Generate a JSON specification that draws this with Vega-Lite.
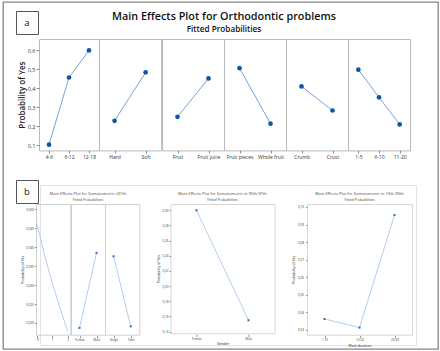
{
  "$schema": "https://vega.github.io/schema/vega-lite/v6.json",
  "background": "white",
  "padding": {"left": 2, "top": 1, "right": 0, "bottom": 0},
  "datasets": {
    "none": [],
    "boxA": [{"lbl": "a"}],
    "boxB": [{"lbl": "b"}],
    "mainA": [
      {"factor": "Age Group", "level": "4-6", "p": 0.104, "ord": 1},
      {"factor": "Age Group", "level": "6-12", "p": 0.456, "ord": 2},
      {"factor": "Age Group", "level": "12-18", "p": 0.598, "ord": 3},
      {"factor": "Food type", "level": "Hard", "p": 0.229, "ord": 1},
      {"factor": "Food type", "level": "Soft", "p": 0.483, "ord": 2},
      {"factor": "Feed composition-1", "level": "Fruit", "p": 0.250, "ord": 1},
      {"factor": "Feed composition-1", "level": "Fruit juice", "p": 0.451, "ord": 2},
      {"factor": "Feed composition_2", "level": "Fruit pieces", "p": 0.505, "ord": 1},
      {"factor": "Feed composition_2", "level": "Whole fruit", "p": 0.214, "ord": 2},
      {"factor": "Bread", "level": "Crumb", "p": 0.409, "ord": 1},
      {"factor": "Bread", "level": "Crust", "p": 0.283, "ord": 2},
      {"factor": "Times to chew", "level": "1-5", "p": 0.497, "ord": 1},
      {"factor": "Times to chew", "level": "6-10", "p": 0.352, "ord": 2},
      {"factor": "Times to chew", "level": "11-20", "p": 0.210, "ord": 3}
    ],
    "b1": [
      {"factor": "Gestational Age", "g": 0, "p": 0.0464},
      {"factor": "Gestational Age", "g": 0.5, "p": 0.0380},
      {"factor": "Gestational Age", "g": 1, "p": 0.0306},
      {"factor": "Gestational Age", "g": 1.5, "p": 0.0240},
      {"factor": "Gestational Age", "g": 2, "p": 0.0178}
    ],
    "b1g": [
      {"factor": "Gender", "level": "Female", "p": 0.0187},
      {"factor": "Gender", "level": "Male", "p": 0.0385}
    ],
    "b1p": [
      {"factor": "Pregnancy", "level": "Single", "p": 0.0376},
      {"factor": "Pregnancy", "level": "Twin", "p": 0.0191}
    ],
    "c2": [
      {"level": "Female", "p": 0.300},
      {"level": "Male", "p": 0.155}
    ],
    "c3": [
      {"level": "1-10", "p": 0.0361},
      {"level": "10-20", "p": 0.0312},
      {"level": "20-30", "p": 0.0954}
    ]
  },
  "config": {
    "font": "Open Sans",
    "view": {"stroke": "#b9b9b9", "strokeWidth": 1},
    "scale": {"pointPadding": 0.5},
    "axis": {"grid": false, "domain": false, "tickColor": "#8c8c8c", "labelColor": "#333333", "titleColor": "#222222", "labelOverlap": false},
    "title": {"color": "#111111"},
    "line": {"color": "#7ba3d8", "strokeWidth": 1},
    "point": {"filled": true, "size": 22, "color": "#0c58a6", "opacity": 1},
    "rule": {"color": "#b9b9b9", "strokeWidth": 1},
    "text": {"fontSize": 5.5, "color": "#333333"}
  },
  "align": "none",
  "spacing": -424,
  "hconcat": [
    {
      "align": "none",
      "spacing": -39,
      "vconcat": [
        {"data": {"name": "none"}, "width": 1, "height": 1, "view": {"stroke": null}, "mark": "point"},
        {"data": {"name": "none"}, "width": 435, "height": 347, "view": {"stroke": "#858585", "strokeWidth": 1.3}, "mark": "point"}
      ]
    },
    {
      "align": "none",
      "spacing": 19,
      "vconcat": [
        {
          "align": "none",
          "spacing": -22,
          "hconcat": [
            {
              "align": "none",
              "spacing": -30,
              "vconcat": [
                {"data": {"name": "none"}, "width": 22, "height": 1, "view": {"stroke": null}, "mark": "point"},
                {
                  "data": {"name": "boxA"},
                  "width": 22,
                  "height": 23,
                  "view": {"stroke": "#555555", "strokeWidth": 1},
                  "mark": {"type": "text", "fontSize": 9.5, "color": "#111111"},
                  "encoding": {"text": {"field": "lbl", "type": "nominal"}}
                }
              ]
            },
            {
              "data": {"name": "mainA"},
              "bounds": "flush",
              "spacing": 0,
              "hconcat": [
                {
                  "transform": [{"filter": "datum.factor == 'Age Group'"}],
                  "width": 60, "height": 111.4,
                  "encoding": {
                    "y": {"field": "p", "type": "quantitative",
                      "scale": {"domain": [0.0738, 0.6577], "nice": false, "zero": false},
                      "axis": {"values": [0.1, 0.2, 0.3, 0.4, 0.5, 0.6], "format": ".1f",
                        "labelExpr": "replace(datum.label, '.', ',')", "labelFontSize": 5.5,
                        "tickSize": 3, "labelPadding": 1, "title": "Probability of Yes",
                        "titleFontSize": 8, "titleFontWeight": 600, "titlePadding": 1}}
                  },
                  "layer": [
                    {"mark": "line", "encoding": {"x": {"field": "level", "type": "nominal", "sort": null, "axis": {"title": null, "labelAngle": 0, "labelFontSize": 5, "tickSize": 2.5, "labelPadding": 1.5}}, "order": {"field": "ord", "type": "quantitative"}}},
                    {"mark": "point", "encoding": {"x": {"field": "level", "type": "nominal", "sort": null}}},
                    {"transform": [{"aggregate": [{"op": "count", "as": "n"}], "groupby": ["factor"]}], "mark": "rule", "encoding": {"y": {"datum": 0.6278, "type": "quantitative"}}},
                    {"transform": [{"aggregate": [{"op": "count", "as": "n"}], "groupby": ["factor"]}], "mark": "text", "encoding": {"y": {"datum": 0.6435, "type": "quantitative"}, "text": {"field": "factor", "type": "nominal"}}}
                  ]
                },
                {
                  "transform": [{"filter": "datum.factor == 'Food type'"}],
                  "width": 62.2, "height": 111.4,
                  "encoding": {"y": {"field": "p", "type": "quantitative", "scale": {"domain": [0.0738, 0.6577], "nice": false, "zero": false}, "axis": null}},
                  "layer": [
                    {"mark": "line", "encoding": {"x": {"field": "level", "type": "nominal", "sort": null, "axis": {"title": null, "labelAngle": 0, "labelFontSize": 5, "tickSize": 2.5, "labelPadding": 1.5}}, "order": {"field": "ord", "type": "quantitative"}}},
                    {"mark": "point", "encoding": {"x": {"field": "level", "type": "nominal", "sort": null}}},
                    {"transform": [{"aggregate": [{"op": "count", "as": "n"}], "groupby": ["factor"]}], "mark": "rule", "encoding": {"y": {"datum": 0.6278, "type": "quantitative", "axis": null}}},
                    {"transform": [{"aggregate": [{"op": "count", "as": "n"}], "groupby": ["factor"]}], "mark": "text", "encoding": {"y": {"datum": 0.6435, "type": "quantitative", "axis": null}, "text": {"field": "factor", "type": "nominal"}}}
                  ]
                },
                {
                  "transform": [{"filter": "datum.factor == 'Feed composition-1'"}],
                  "width": 62, "height": 111.4,
                  "title": {
                    "text": "Main Effects Plot for Orthodontic problems",
                    "subtitle": "Fitted Probabilities",
                    "fontSize": 10.8, "fontWeight": 600,
                    "subtitleFontSize": 8.2, "subtitleFontWeight": 600, "subtitleColor": "#111111",
                    "subtitlePadding": 4, "offset": 6, "anchor": "middle", "frame": "group", "dx": 31
                  },
                  "encoding": {"y": {"field": "p", "type": "quantitative", "scale": {"domain": [0.0738, 0.6577], "nice": false, "zero": false}, "axis": null}},
                  "layer": [
                    {"mark": "line", "encoding": {"x": {"field": "level", "type": "nominal", "sort": null, "axis": {"title": null, "labelAngle": 0, "labelFontSize": 5, "tickSize": 2.5, "labelPadding": 1.5}}, "order": {"field": "ord", "type": "quantitative"}}},
                    {"mark": "point", "encoding": {"x": {"field": "level", "type": "nominal", "sort": null}}},
                    {"transform": [{"aggregate": [{"op": "count", "as": "n"}], "groupby": ["factor"]}], "mark": "rule", "encoding": {"y": {"datum": 0.6278, "type": "quantitative", "axis": null}}},
                    {"transform": [{"aggregate": [{"op": "count", "as": "n"}], "groupby": ["factor"]}], "mark": "text", "encoding": {"y": {"datum": 0.6435, "type": "quantitative", "axis": null}, "text": {"field": "factor", "type": "nominal"}}}
                  ]
                },
                {
                  "transform": [{"filter": "datum.factor == 'Feed composition_2'"}],
                  "width": 62, "height": 111.4,
                  "encoding": {"y": {"field": "p", "type": "quantitative", "scale": {"domain": [0.0738, 0.6577], "nice": false, "zero": false}, "axis": null}},
                  "layer": [
                    {"mark": "line", "encoding": {"x": {"field": "level", "type": "nominal", "sort": null, "axis": {"title": null, "labelAngle": 0, "labelFontSize": 5, "tickSize": 2.5, "labelPadding": 1.5}}, "order": {"field": "ord", "type": "quantitative"}}},
                    {"mark": "point", "encoding": {"x": {"field": "level", "type": "nominal", "sort": null}}},
                    {"transform": [{"aggregate": [{"op": "count", "as": "n"}], "groupby": ["factor"]}], "mark": "rule", "encoding": {"y": {"datum": 0.6278, "type": "quantitative", "axis": null}}},
                    {"transform": [{"aggregate": [{"op": "count", "as": "n"}], "groupby": ["factor"]}], "mark": "text", "encoding": {"y": {"datum": 0.6435, "type": "quantitative", "axis": null}, "text": {"field": "factor", "type": "nominal"}}}
                  ]
                },
                {
                  "transform": [{"filter": "datum.factor == 'Bread'"}],
                  "width": 62, "height": 111.4,
                  "encoding": {"y": {"field": "p", "type": "quantitative", "scale": {"domain": [0.0738, 0.6577], "nice": false, "zero": false}, "axis": null}},
                  "layer": [
                    {"mark": "line", "encoding": {"x": {"field": "level", "type": "nominal", "sort": null, "axis": {"title": null, "labelAngle": 0, "labelFontSize": 5, "tickSize": 2.5, "labelPadding": 1.5}}, "order": {"field": "ord", "type": "quantitative"}}},
                    {"mark": "point", "encoding": {"x": {"field": "level", "type": "nominal", "sort": null}}},
                    {"transform": [{"aggregate": [{"op": "count", "as": "n"}], "groupby": ["factor"]}], "mark": "rule", "encoding": {"y": {"datum": 0.6278, "type": "quantitative", "axis": null}}},
                    {"transform": [{"aggregate": [{"op": "count", "as": "n"}], "groupby": ["factor"]}], "mark": "text", "encoding": {"y": {"datum": 0.6435, "type": "quantitative", "axis": null}, "text": {"field": "factor", "type": "nominal"}}}
                  ]
                },
                {
                  "transform": [{"filter": "datum.factor == 'Times to chew'"}],
                  "width": 62, "height": 111.4,
                  "encoding": {"y": {"field": "p", "type": "quantitative", "scale": {"domain": [0.0738, 0.6577], "nice": false, "zero": false}, "axis": null}},
                  "layer": [
                    {"mark": "line", "encoding": {"x": {"field": "level", "type": "nominal", "sort": null, "axis": {"title": null, "labelAngle": 0, "labelFontSize": 5, "tickSize": 2.5, "labelPadding": 1.5}}, "order": {"field": "ord", "type": "quantitative"}}},
                    {"mark": "point", "encoding": {"x": {"field": "level", "type": "nominal", "sort": null}}},
                    {"transform": [{"aggregate": [{"op": "count", "as": "n"}], "groupby": ["factor"]}], "mark": "rule", "encoding": {"y": {"datum": 0.6278, "type": "quantitative", "axis": null}}},
                    {"transform": [{"aggregate": [{"op": "count", "as": "n"}], "groupby": ["factor"]}], "mark": "text", "encoding": {"y": {"datum": 0.6435, "type": "quantitative", "axis": null}, "text": {"field": "factor", "type": "nominal"}}}
                  ]
                }
              ]
            }
          ]
        },
        {
          "align": "none",
          "spacing": -397,
          "hconcat": [
            {
              "align": "none",
              "spacing": 0,
              "hconcat": [
                {
                  "align": "none",
                  "spacing": -26,
                  "vconcat": [
                    {"data": {"name": "none"}, "width": 22, "height": 1, "view": {"stroke": null}, "mark": "point"},
                    {
                      "data": {"name": "boxB"},
                      "width": 22,
                      "height": 23,
                      "view": {"stroke": "#555555", "strokeWidth": 1},
                      "mark": {"type": "text", "fontSize": 9.5, "color": "#111111"},
                      "encoding": {"text": {"field": "lbl", "type": "nominal"}}
                    }
                  ]
                },
                {
                  "align": "none",
                  "spacing": -21,
                  "vconcat": [
                    {"data": {"name": "none"}, "width": 1, "height": 1, "view": {"stroke": null}, "mark": "point"},
                    {"data": {"name": "none"}, "width": 376, "height": 160, "view": {"stroke": "#e3e3e3", "strokeWidth": 1}, "mark": "point"}
                  ]
                }
              ]
            },
            {
              "spacing": 15.5,
              "hconcat": [
                {
                  "spacing": 0,
                  "bounds": "flush",
                  "hconcat": [
                    {
                      "data": {"name": "b1"},
                      "width": 34.3,
                      "height": 130.7,
                      "view": {"stroke": "#cfcfcf"},
                      "encoding": {
                        "y": {
                          "field": "p", "type": "quantitative",
                          "scale": {"domain": [0.0169, 0.0514], "nice": false, "zero": false},
                          "axis": {
                            "values": [0.02, 0.025, 0.03, 0.035, 0.04, 0.045, 0.05],
                            "format": ".3f",
                            "labelExpr": "replace(datum.label, '.', ',')",
                            "labelFontSize": 3,
                            "tickSize": 1.5,
                            "labelPadding": 1,
                            "title": "Probability of Yes",
                            "titleFontSize": 3.5,
                            "titleFontWeight": "normal",
                            "titlePadding": 1
                          }
                        }
                      },
                      "layer": [
                        {
                          "mark": {"type": "line", "color": "#a9c8ee", "strokeWidth": 0.9},
                          "encoding": {
                            "x": {"field": "g", "type": "quantitative",
                              "scale": {"domain": [-0.045, 2.17], "nice": false, "zero": false},
                              "axis": {"values": [0, 1, 2], "format": "d", "title": null, "labelFontSize": 3, "tickSize": 2, "labelPadding": 1, "offset": 1}}
                          }
                        },
                        {
                          "transform": [{"aggregate": [{"op": "count", "as": "n"}], "groupby": ["factor"]}],
                          "mark": {"type": "rule", "color": "#cfcfcf", "strokeWidth": 0.8},
                          "encoding": {"y": {"datum": 0.0508, "type": "quantitative"}}
                        },
                        {
                          "transform": [{"aggregate": [{"op": "count", "as": "n"}], "groupby": ["factor"]}],
                          "mark": {"type": "text", "fontSize": 2.6, "color": "#555555"},
                          "encoding": {
                            "y": {"datum": 0.0511, "type": "quantitative"},
                            "text": {"field": "factor", "type": "nominal"}
                          }
                        }
                      ]
                    },
                    {
                      "data": {"name": "b1g"},
                      "width": 34,
                      "height": 130.7,
                      "view": {"stroke": "#cfcfcf"},
                      "title": {
                        "text": "Main Effects Plot for Somatometric ≤97th",
                        "subtitle": "Fitted Probabilities",
                        "fontSize": 4,
                        "fontWeight": "normal",
                        "subtitleFontSize": 3.5,
                        "subtitlePadding": 1.5,
                        "offset": 3,
                        "anchor": "middle",
                        "frame": "group",
                        "color": "#444444",
                        "subtitleColor": "#444444"
                      },
                      "encoding": {
                        "y": {"field": "p", "type": "quantitative",
                          "scale": {"domain": [0.0169, 0.0514], "nice": false, "zero": false},
                          "axis": null}
                      },
                      "layer": [
                        {
                          "mark": {"type": "line", "color": "#a9c8ee", "strokeWidth": 0.9},
                          "encoding": {
                            "x": {"field": "level", "type": "nominal", "sort": null,
                              "axis": {"title": null, "labelAngle": 0, "labelFontSize": 3, "tickSize": 2, "labelPadding": 1, "offset": 1}}
                          }
                        },
                        {
                          "mark": {"type": "point", "shape": "square", "filled": true, "size": 4, "color": "#2f6db5", "opacity": 1},
                          "encoding": {"x": {"field": "level", "type": "nominal", "sort": null}}
                        },
                        {
                          "transform": [{"aggregate": [{"op": "count", "as": "n"}], "groupby": ["factor"]}],
                          "mark": {"type": "rule", "color": "#cfcfcf", "strokeWidth": 0.8},
                          "encoding": {"y": {"datum": 0.0508, "type": "quantitative", "axis": null}}
                        },
                        {
                          "transform": [{"aggregate": [{"op": "count", "as": "n"}], "groupby": ["factor"]}],
                          "mark": {"type": "text", "fontSize": 2.6, "color": "#555555"},
                          "encoding": {
                            "y": {"datum": 0.0511, "type": "quantitative", "axis": null},
                            "text": {"field": "factor", "type": "nominal"}
                          }
                        }
                      ]
                    },
                    {
                      "data": {"name": "b1p"},
                      "width": 34.3,
                      "height": 130.7,
                      "view": {"stroke": "#cfcfcf"},
                      "encoding": {
                        "y": {"field": "p", "type": "quantitative",
                          "scale": {"domain": [0.0169, 0.0514], "nice": false, "zero": false},
                          "axis": null}
                      },
                      "layer": [
                        {
                          "mark": {"type": "line", "color": "#a9c8ee", "strokeWidth": 0.9},
                          "encoding": {
                            "x": {"field": "level", "type": "nominal", "sort": null,
                              "axis": {"title": null, "labelAngle": 0, "labelFontSize": 3, "tickSize": 2, "labelPadding": 1, "offset": 1}}
                          }
                        },
                        {
                          "mark": {"type": "point", "shape": "square", "filled": true, "size": 4, "color": "#2f6db5", "opacity": 1},
                          "encoding": {"x": {"field": "level", "type": "nominal", "sort": null}}
                        },
                        {
                          "transform": [{"aggregate": [{"op": "count", "as": "n"}], "groupby": ["factor"]}],
                          "mark": {"type": "rule", "color": "#cfcfcf", "strokeWidth": 0.8},
                          "encoding": {"y": {"datum": 0.0508, "type": "quantitative", "axis": null}}
                        },
                        {
                          "transform": [{"aggregate": [{"op": "count", "as": "n"}], "groupby": ["factor"]}],
                          "mark": {"type": "text", "fontSize": 2.6, "color": "#555555"},
                          "encoding": {
                            "y": {"datum": 0.0511, "type": "quantitative", "axis": null},
                            "text": {"field": "factor", "type": "nominal"}
                          }
                        }
                      ]
                    }
                  ]
                },
                {
                  "data": {"name": "c2"},
                  "width": 104,
                  "height": 129.3,
                  "view": {"stroke": "#d5d5d5"},
                  "title": {
                    "text": "Main Effects Plot for Somatometric in 90th-97th",
                    "subtitle": "Fitted Probabilities",
                    "fontSize": 4,
                    "fontWeight": "normal",
                    "subtitleFontSize": 3.5,
                    "subtitlePadding": 1.5,
                    "offset": 3,
                    "anchor": "middle",
                    "frame": "group",
                    "color": "#444444",
                    "subtitleColor": "#444444"
                  },
                  "encoding": {
                    "x": {"field": "level", "type": "nominal", "sort": null,
                      "axis": {"title": "Gender", "titleFontSize": 3.5, "titleFontWeight": "normal", "titlePadding": 1.5, "labelAngle": 0, "labelFontSize": 3, "tickSize": 2, "labelPadding": 1, "offset": 1}},
                    "y": {"field": "p", "type": "quantitative",
                      "scale": {"domain": [0.1378, 0.3083], "nice": false, "zero": false},
                      "axis": {"values": [0.14, 0.16, 0.18, 0.2, 0.22, 0.24, 0.26, 0.28, 0.3], "format": ".2f",
                        "labelExpr": "replace(datum.label, '.', ',')", "labelFontSize": 3, "tickSize": 1.5, "labelPadding": 1,
                        "title": "Probability of Yes", "titleFontSize": 3.5, "titleFontWeight": "normal", "titlePadding": 2}}
                  },
                  "layer": [
                    {"mark": {"type": "line", "color": "#a9c8ee", "strokeWidth": 0.9}},
                    {"mark": {"type": "point", "shape": "square", "filled": true, "size": 4, "color": "#2f6db5", "opacity": 1}}
                  ]
                },
                {
                  "data": {"name": "c3"},
                  "width": 105,
                  "height": 130.7,
                  "view": {"stroke": "#d5d5d5"},
                  "title": {
                    "text": "Main Effects Plot for Somatometric in 10th-90th",
                    "subtitle": "Fitted Probabilities",
                    "fontSize": 4,
                    "fontWeight": "normal",
                    "subtitleFontSize": 3.5,
                    "subtitlePadding": 1.5,
                    "offset": 3,
                    "anchor": "middle",
                    "frame": "group",
                    "color": "#444444",
                    "subtitleColor": "#444444"
                  },
                  "encoding": {
                    "x": {"field": "level", "type": "nominal", "sort": null,
                      "axis": {"title": "Meal duration", "titleFontSize": 3.5, "titleFontWeight": "normal", "titlePadding": 1.5, "labelAngle": 0, "labelFontSize": 3, "tickSize": 2, "labelPadding": 1, "offset": 1}},
                    "y": {"field": "p", "type": "quantitative",
                      "scale": {"domain": [0.02715, 0.1017], "nice": false, "zero": false},
                      "axis": {"values": [0.03, 0.04, 0.05, 0.06, 0.07, 0.08, 0.09, 0.1], "format": ".2f",
                        "labelExpr": "replace(datum.label, '.', ',')", "labelFontSize": 3, "tickSize": 1.5, "labelPadding": 2,
                        "title": "Probability of Yes", "titleFontSize": 3.5, "titleFontWeight": "normal", "titlePadding": 2}}
                  },
                  "layer": [
                    {"mark": {"type": "line", "color": "#a9c8ee", "strokeWidth": 0.9}},
                    {"mark": {"type": "point", "shape": "square", "filled": true, "size": 4, "color": "#2f6db5", "opacity": 1}}
                  ]
                }
              ]
            }
          ]
        }
      ]
    }
  ]
}
